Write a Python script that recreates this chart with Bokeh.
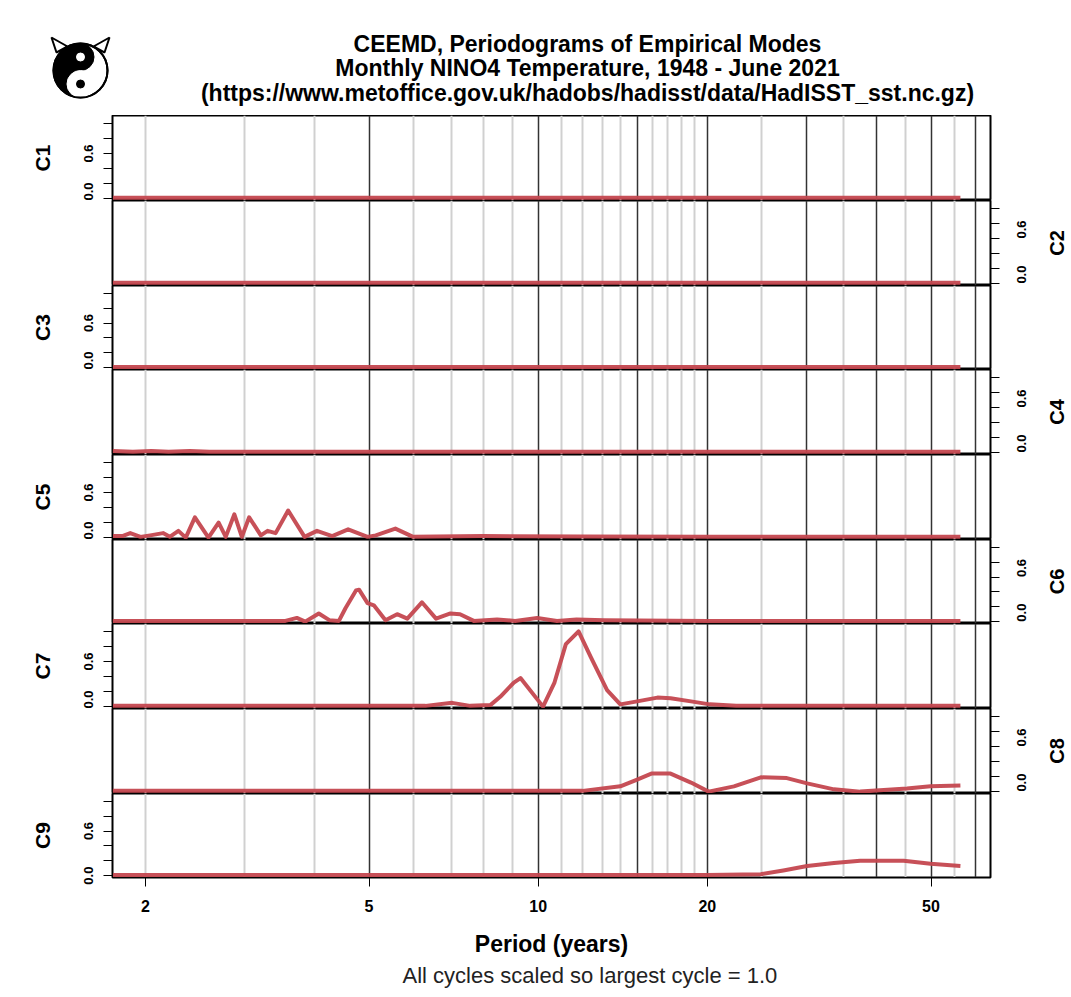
import math
from bokeh.plotting import figure
from bokeh.models import Range1d, FixedTicker, Grid, PrintfTickFormatter, Title
from bokeh.layouts import column, row
from bokeh.core.properties import value
from bokeh.embed import file_html
from bokeh.resources import INLINE

# ---------------- data ----------------
mode_names = ["C1", "C2", "C3", "C4", "C5", "C6", "C7", "C8", "C9"]

c1_period = [1.75, 3.0, 8.0, 20.0, 56.4]
c1_value = [0.01, 0.01, 0.01, 0.01, 0.01]

c2_period = [1.75, 3.0, 8.0, 20.0, 56.4]
c2_value = [0.01, 0.01, 0.01, 0.01, 0.01]

c3_period = [1.75, 3.0, 8.0, 20.0, 56.4]
c3_value = [0.01, 0.01, 0.01, 0.01, 0.01]

c4_period = [1.75, 1.9, 2.05, 2.2, 2.4, 2.6, 4.0, 10.0, 56.4]
c4_value = [0.02, 0.01, 0.02, 0.01, 0.02, 0.01, 0.01, 0.01, 0.01]

c5_period = [1.75, 1.82, 1.88, 1.96, 2.04, 2.15, 2.21, 2.29, 2.36, 2.45, 2.59,
             2.70, 2.78, 2.88, 2.97, 3.06, 3.21, 3.30, 3.41, 3.59, 3.84, 4.04,
             4.30, 4.59, 4.97, 5.14, 5.57, 5.99, 8.0, 12.0, 20.0, 56.4]
c5_value = [0.02, 0.02, 0.06, 0.01, 0.03, 0.06, 0.01, 0.09, 0.00, 0.27, 0.00,
            0.20, 0.01, 0.31, 0.01, 0.27, 0.03, 0.09, 0.06, 0.36, 0.01, 0.09,
            0.02, 0.11, 0.01, 0.03, 0.12, 0.01, 0.02, 0.015, 0.01, 0.01]

c6_period = [1.75, 3.55, 3.72, 3.85, 4.07, 4.25, 4.42, 4.54, 4.74, 4.80, 4.97,
             5.10, 5.35, 5.61, 5.85, 6.21, 6.58, 6.98, 7.26, 7.68, 8.45, 9.1,
             9.96, 10.8, 11.7, 13.1, 20.0, 56.4]
c6_value = [0.01, 0.01, 0.05, 0.00, 0.11, 0.02, 0.01, 0.18, 0.42, 0.43, 0.25,
            0.22, 0.02, 0.10, 0.04, 0.26, 0.04, 0.11, 0.10, 0.01, 0.03, 0.01,
            0.05, 0.01, 0.03, 0.02, 0.01, 0.01]

c7_period = [1.75, 6.3, 7.03, 7.57, 8.22, 8.56, 9.05, 9.30, 10.2, 10.69, 11.2,
             11.8, 12.4, 13.26, 14.0, 15.0, 16.3, 17.2, 18.7, 20.2, 22.5, 56.4]
c7_value = [0.01, 0.01, 0.05, 0.01, 0.02, 0.13, 0.32, 0.38, 0.00, 0.32, 0.83,
            1.00, 0.66, 0.22, 0.03, 0.07, 0.12, 0.11, 0.07, 0.03, 0.01, 0.01]

c8_period = [1.75, 12.0, 14.0, 15.0, 15.9, 17.2, 18.7, 20.1, 22.3, 24.9, 27.7,
             30.1, 33.6, 37.4, 41.2, 45.3, 49.9, 56.4]
c8_value = [0.01, 0.01, 0.07, 0.16, 0.24, 0.24, 0.12, 0.00, 0.07, 0.19, 0.18,
            0.11, 0.03, 0.00, 0.02, 0.04, 0.07, 0.08]

c9_period = [1.75, 20.0, 24.9, 27.3, 30.1, 33.6, 37.4, 44.7, 49.9, 56.4]
c9_value = [0.01, 0.01, 0.02, 0.07, 0.13, 0.17, 0.20, 0.20, 0.16, 0.13]

mode_periods = [c1_period, c2_period, c3_period, c4_period, c5_period,
                c6_period, c7_period, c8_period, c9_period]
mode_values = [c1_value, c2_value, c3_value, c4_value, c5_value,
               c6_value, c7_value, c8_value, c9_value]

grey_grid = [2, 3, 4, 6, 7, 8, 9, 11, 12, 13, 14, 16, 17, 18, 19, 25, 35, 45, 55]
black_grid = [5, 10, 15, 20, 30, 40, 50, 60]
x_ticks = [2, 5, 10, 20, 50]
y_major_ticks = [0.0, 0.6]
y_minor_ticks = [0.2, 0.4, 0.8, 1.0]

title_lines = ["CEEMD, Periodograms of Empirical Modes",
               "Monthly NINO4 Temperature, 1948 - June 2021",
               "(https://www.metoffice.gov.uk/hadobs/hadisst/data/HadISST_sst.nc.gz)"]
x_title = "Period (years)"
sub_title = "All cycles scaled so largest cycle = 1.0"

# ---------------- geometry / style ----------------
TOTAL_W = 1070
LOGO_W = 112
LEFT, RIGHT = 112, 50              # panel frame borders (px)
PANEL_W = 1040                     # frame spans page x 112..990
RLAB_W = TOTAL_W - PANEL_W
HEADER_H = 115
PANEL_HS = [85, 85, 84, 85, 85, 84, 85, 85, 84]
XAXIS_H = 118
XMIN = 1.748
XMAX = 10 ** (math.log10(XMIN) + (PANEL_W - LEFT - RIGHT) / 562.0)
YLO, YHI = -0.025, 1.105
FONT = "Liberation Sans"
RED = "#c4474f"


def blank_fig(w, h, xr, yr):
    f = figure(width=w, height=h, x_range=xr, y_range=yr,
               x_axis_location=None, y_axis_location=None,
               output_backend="svg", toolbar_location=None,
               min_border_left=0, min_border_right=0,
               min_border_top=0, min_border_bottom=0)
    f.grid.visible = False
    f.outline_line_color = None
    f.background_fill_color = "white"
    f.border_fill_color = "white"
    return f


# ---------------- header: logo + title ----------------
logo = blank_fig(LOGO_W, HEADER_H, Range1d(0, LOGO_W), Range1d(HEADER_H, 0))
lx, ly, lr = 80, 70, 27
logo.patches(xs=[[56, 51, 67], [104, 109, 93]], ys=[[52, 37, 46], [52, 37, 46]],
             fill_color="white", line_color="black", line_width=2)
logo.circle(x=[lx], y=[ly], radius=lr, fill_color="white", line_color="black",
            line_width=2)
logo.wedge(x=[lx], y=[ly], radius=lr, start_angle=math.pi / 2,
           end_angle=3 * math.pi / 2, color="black")
logo.circle(x=[lx], y=[ly - lr / 2], radius=lr / 2, color="black")
logo.circle(x=[lx], y=[ly + lr / 2], radius=lr / 2, color="white")
logo.circle(x=[lx], y=[ly - lr / 2], radius=4, color="white")
logo.circle(x=[lx], y=[ly + lr / 2], radius=4, color="black")
logo.circle(x=[lx], y=[ly], radius=lr, fill_color=None, line_color="black",
            line_width=2)

header = blank_fig(TOTAL_W - LOGO_W, HEADER_H, Range1d(LOGO_W, TOTAL_W),
                   Range1d(HEADER_H, 0))
header.text(x=[587, 587, 587], y=[43, 67, 92], text=title_lines,
            text_font=value(FONT), text_font_style="bold",
            text_font_size=value("23px"), text_align="center",
            text_baseline="middle", text_color="black")

# ---------------- panels ----------------
shared_x = Range1d(XMIN, XMAX)
panels = []
for i in range(9):
    last = (i == 8)
    h = PANEL_HS[i] + (XAXIS_H if last else 0)
    side = "left" if i % 2 == 0 else "right"
    p = figure(width=PANEL_W, height=h, x_axis_type="log", x_range=shared_x,
               y_range=Range1d(YLO, YHI),
               x_axis_location="below" if last else None,
               y_axis_location=side, output_backend="svg",
               toolbar_location=None, min_border_left=LEFT,
               min_border_right=RIGHT, min_border_top=0,
               min_border_bottom=XAXIS_H if last else 0)
    p.background_fill_color = "white"
    p.border_fill_color = "white"
    p.outline_line_color = "black"
    p.outline_line_width = 2
    p.ygrid.visible = False
    p.xgrid.ticker = FixedTicker(ticks=grey_grid)
    p.xgrid.grid_line_color = "#d0d0d0"
    p.xgrid.grid_line_width = 2
    p.add_layout(Grid(dimension=0, ticker=FixedTicker(ticks=black_grid),
                      grid_line_color="#333333", grid_line_width=1.5))

    ax = p.yaxis[0]
    ax.ticker = FixedTicker(ticks=y_major_ticks, minor_ticks=y_minor_ticks)
    ax.formatter = PrintfTickFormatter(format="%.1f")
    ax.axis_line_color = "black"
    ax.major_tick_in = 0
    ax.major_tick_out = 9
    ax.minor_tick_in = 0
    ax.minor_tick_out = 9
    ax.major_tick_line_color = "black"
    ax.minor_tick_line_color = "black"
    ax.major_label_text_font = FONT
    ax.major_label_text_font_style = "bold"
    ax.major_label_text_font_size = "13px"
    ax.major_label_text_color = "black"
    if side == "left":
        ax.major_label_orientation = "vertical"
        ax.major_label_standoff = 10
        ax.axis_label = mode_names[i]
        ax.axis_label_text_font = FONT
        ax.axis_label_text_font_style = "bold"
        ax.axis_label_text_font_size = "21px"
        ax.axis_label_text_color = "black"
        ax.axis_label_standoff = 28
    else:
        ax.major_label_orientation = math.pi / 2
        ax.major_label_standoff = 22

    if last:
        xa = p.xaxis[0]
        xa.ticker = FixedTicker(ticks=x_ticks)
        xa.major_label_overrides = {t: str(t) for t in x_ticks}
        xa.axis_line_color = "black"
        xa.major_tick_in = 0
        xa.major_tick_out = 9
        xa.major_tick_line_color = "black"
        xa.minor_tick_line_color = None
        xa.major_label_text_font = FONT
        xa.major_label_text_font_style = "bold"
        xa.major_label_text_font_size = "16px"
        xa.major_label_text_color = "black"
        xa.major_label_standoff = 13
        xa.axis_label = x_title
        xa.axis_label_text_font = FONT
        xa.axis_label_text_font_style = "bold"
        xa.axis_label_text_font_size = "23px"
        xa.axis_label_text_color = "black"
        xa.axis_label_standoff = 16
        p.add_layout(Title(text=sub_title, align="left", offset=290,
                           text_font=FONT, text_font_style="normal",
                           text_font_size="22px", text_color="#222222",
                           standoff=3), "below")

    p.line(mode_periods[i], mode_values[i], line_color=RED, line_width=4,
           line_alpha=0.95, line_join="round")
    panels.append(p)

# ---------------- right-hand mode labels ----------------
mid_h = sum(PANEL_HS) + XAXIS_H
rlab = blank_fig(RLAB_W, mid_h, Range1d(0, RLAB_W), Range1d(0, mid_h))
r_names, r_y = [], []
top = 0
for i in range(9):
    if i % 2 == 1:
        r_names.append(mode_names[i])
        r_y.append(mid_h - (top + PANEL_HS[i] / 2))
    top += PANEL_HS[i]
rlab.text(x=[16] * len(r_names), y=r_y, text=r_names, angle=math.pi / 2,
          text_font=value(FONT), text_font_style="bold",
          text_font_size=value("20px"), text_align="center",
          text_baseline="middle", text_color="black")

layout = column(row(logo, header), row(column(panels), rlab))
open("out.html", "w").write(file_html(layout, INLINE))
